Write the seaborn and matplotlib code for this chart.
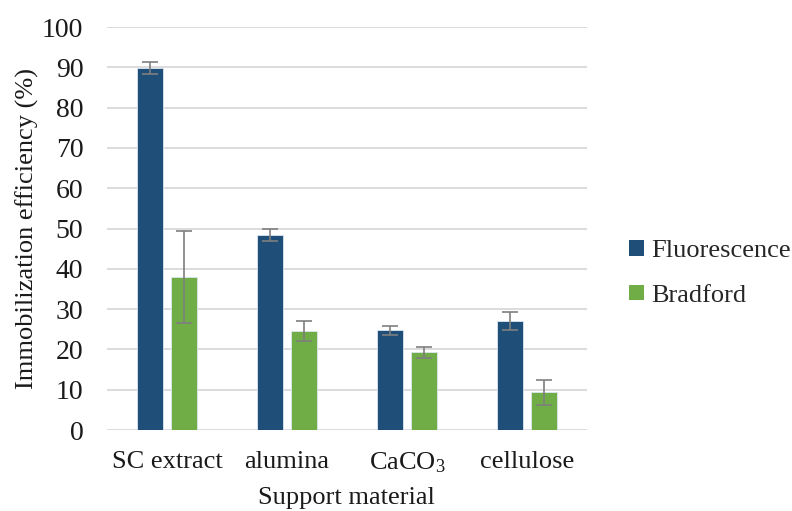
import matplotlib
matplotlib.use("Agg")
import matplotlib.pyplot as plt
import seaborn as sns
import pandas as pd
import numpy as np

categories = ["SC extract", "alumina", "CaCO$_3$", "cellulose"]
series = ["Fluorescence", "Bradford"]
fluorescence = [89.9, 48.4, 24.7, 27.1]
bradford = [38.0, 24.5, 19.3, 9.4]
fluorescence_err = [1.5, 1.5, 1.1, 2.3]
bradford_err = [11.4, 2.5, 1.4, 3.1]
colors = ["#1F4E79", "#70AD47"]

sns.set_theme(style="white")
plt.rcParams["font.family"] = ["Liberation Serif", "DejaVu Serif"]
plt.rcParams["mathtext.fontset"] = "custom"
plt.rcParams["mathtext.rm"] = "Liberation Serif"
plt.rcParams["mathtext.it"] = "Liberation Serif:italic"

df = pd.DataFrame({
    "category": categories * 2,
    "series": [series[0]] * 4 + [series[1]] * 4,
    "value": fluorescence + bradford,
    "err": fluorescence_err + bradford_err,
})

fig = plt.figure(figsize=(7.92, 5.11), dpi=100)
ax = fig.add_axes([0.135, 0.1585, 0.606, 0.7885])

sns.barplot(data=df, x="category", y="value", hue="series", palette=colors,
            saturation=1, width=0.56, gap=0.226, ax=ax, errorbar=None, legend=False,
            edgecolor="#DCE6F0", linewidth=0.6, zorder=3)

bars = [p for p in ax.patches]
vals = list(df["value"])
errs = list(df["err"])
for p, v, e in zip(bars, vals, errs):
    xc = p.get_x() + p.get_width() / 2
    ax.errorbar(xc, v, yerr=e, fmt="none", ecolor="#7F7F7F", elinewidth=1.2,
                capsize=5.5, capthick=1.2, zorder=4)

ax.set_ylim(0, 100)
ax.set_xlim(-0.5, 3.5)
ax.set_yticks(np.arange(0, 101, 10))
ax.yaxis.grid(True, color="#D9D9D9", linewidth=1.3, zorder=0)
ax.set_axisbelow(True)
for s in ["top", "right", "left", "bottom"]:
    ax.spines[s].set_visible(False)
ax.tick_params(axis="both", length=0, colors="#1a1a1a")
ax.tick_params(axis="y", pad=17, labelsize=20)
ax.tick_params(axis="x", pad=15, labelsize=19)
ax.set_xlabel("Support material", fontsize=19, color="#1a1a1a", labelpad=8)
ax.set_ylabel("Immobilization efficiency (%)", fontsize=19, color="#1a1a1a", labelpad=2)

from matplotlib.patches import Patch
handles = [Patch(facecolor=c, edgecolor="none") for c in colors]
fig.legend(handles, series, loc="center left", bbox_to_anchor=(792 and 629/792, 0.465),
           frameon=False, fontsize=19, handlelength=0.55, handleheight=0.55,
           handletextpad=0.3, labelspacing=0.85, borderpad=0, borderaxespad=0)

fig.savefig("out.png", dpi=100)
